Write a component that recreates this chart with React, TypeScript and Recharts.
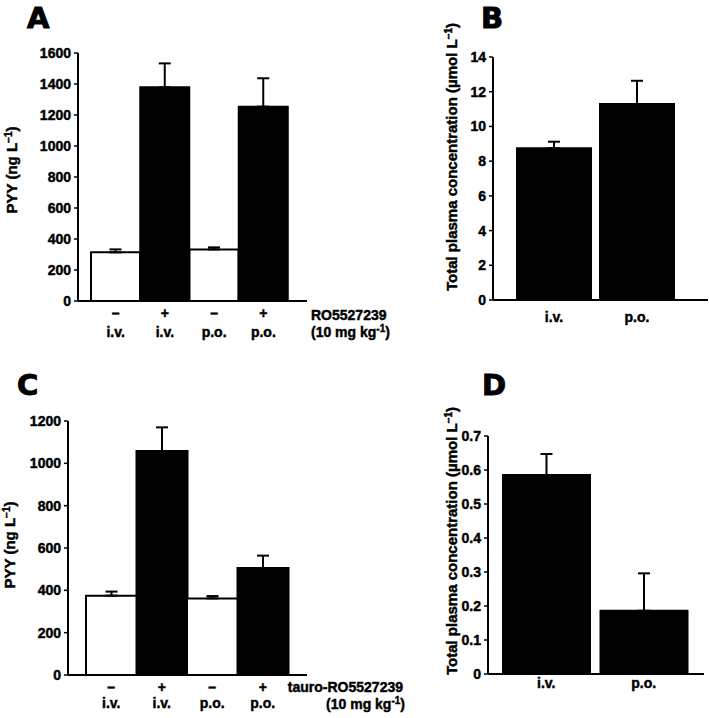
import React from 'react';
import { BarChart, Bar, XAxis, YAxis, Cell, ErrorBar } from 'recharts';

const FONT = '"Liberation Sans", Arial, Helvetica, sans-serif';

// A and C: vehicle (–) vs compound (+), by route
const doseSigns = ['–', '+', '–', '+'];
const doseRoutes = ['i.v.', 'i.v.', 'p.o.', 'p.o.'];
const doseTreated = [false, true, false, true];
// B and D: exposure by route
const pkRoutes = ['i.v.', 'p.o.'];

const pyyRoValues = [314, 1379, 333, 1254];
const pyyRoErrors = [19, 154, 13, 183];
const plasmaRoValues = [8.74, 11.29];
const plasmaRoErrors = [0.38, 1.34];
const pyyTauroValues = [375, 1058, 362, 505];
const pyyTauroErrors = [19, 112, 11, 59];
const plasmaTauroValues = [0.585, 0.186];
const plasmaTauroErrors = [0.062, 0.11];

const pyyRoTicks = [0, 200, 400, 600, 800, 1000, 1200, 1400, 1600];
const plasmaRoTicks = [0, 2, 4, 6, 8, 10, 12, 14];
const pyyTauroTicks = [0, 200, 400, 600, 800, 1000, 1200];
const plasmaTauroTicks = [0, 0.1, 0.2, 0.3, 0.4, 0.5, 0.6, 0.7];

type Row = { name: string; sign: string; route: string; value: number; err: number[]; fill: string };

const doseRows = (values: number[], errors: number[]): Row[] =>
  values.map((v, i) => ({
    name: `${doseSigns[i]}${doseRoutes[i]}`,
    sign: doseSigns[i],
    route: doseRoutes[i],
    value: v,
    err: [0, errors[i]],
    fill: doseTreated[i] ? '#000' : '#fff',
  }));

const pkRows = (values: number[], errors: number[]): Row[] =>
  values.map((v, i) => ({
    name: pkRoutes[i],
    sign: '',
    route: pkRoutes[i],
    value: v,
    err: [0, errors[i]],
    fill: '#000',
  }));

// the original uses a heavy sans, so add a thin stroke to the bold face
const txt = {
  fontFamily: FONT,
  fontWeight: 700,
  fontSize: 14,
  fill: '#000',
  stroke: '#000',
  strokeWidth: 0.45,
} as const;
const labelTxt = { ...txt, fontSize: 15 } as const;

interface PanelProps {
  box: { x: number; y: number; w: number; h: number };
  plot: { left: number; right: number; top: number; bottom: number };
  rows: Row[];
  ticks: number[];
  tickFormat?: (v: number) => string;
  padding: { left: number; right: number };
  gap: number;
  signDy: number;
  routeDy: number;
}

const Panel = ({ box, plot, rows, ticks, tickFormat, padding, gap, signDy, routeDy }: PanelProps) => {
  const yw = 40;
  const xh = 40;
  const margin = {
    top: plot.top,
    right: box.w - plot.right,
    left: plot.left - yw,
    bottom: box.h - plot.bottom - xh,
  };

  const renderTick = (props: any) => {
    const { x, y, payload } = props;
    const row = rows.find(r => r.name === payload.value);
    if (!row) return <g />;
    return (
      <g>
        {row.sign && (
          <text x={x} y={y + signDy} textAnchor="middle" style={txt}>
            {row.sign}
          </text>
        )}
        <text x={x} y={y + routeDy} textAnchor="middle" style={txt}>
          {row.route}
        </text>
      </g>
    );
  };

  return (
    <div style={{ position: 'absolute', left: box.x, top: box.y }}>
      <BarChart width={box.w} height={box.h} data={rows} margin={margin} barCategoryGap={gap}>
        <XAxis
          dataKey="name"
          height={xh}
          padding={padding}
          interval={0}
          axisLine={{ stroke: '#000', strokeWidth: 2 }}
          tickLine={false}
          tickSize={0}
          tickMargin={0}
          tick={renderTick}
        />
        <YAxis
          width={yw}
          domain={[ticks[0], ticks[ticks.length - 1]]}
          ticks={ticks}
          interval={0}
          allowDataOverflow
          tickFormatter={tickFormat}
          tick={{ ...txt }}
          tickSize={4}
          tickMargin={3}
          axisLine={{ stroke: '#000', strokeWidth: 2 }}
          tickLine={{ stroke: '#000', strokeWidth: 1.5 }}
        />
        <Bar dataKey="value" stroke="#000" strokeWidth={2} isAnimationActive={false}>
          {rows.map((r, i) => (
            <Cell key={`cell-${i}`} fill={r.fill} />
          ))}
          <ErrorBar dataKey="err" width={6} strokeWidth={2} stroke="#000" direction="y" isAnimationActive={false} />
        </Bar>
      </BarChart>
    </div>
  );
};

const YLabel = ({ x, y, text }: { x: number; y: number; text: string }) => (
  <text x={x} y={y} transform={`rotate(-90 ${x} ${y})`} textAnchor="middle" style={labelTxt}>
    {text} L
    <tspan dy={-5} fontSize={10}>−1</tspan>
    <tspan dy={5}>)</tspan>
  </text>
);

const DoseLabel = ({ x, y, anchor }: { x: number; y: number; anchor: 'start' | 'end' }) => (
  <text x={x} y={y} textAnchor={anchor} style={txt}>
    (10 mg kg
    <tspan dy={-5} fontSize={10}>-1</tspan>
    <tspan dy={5}>)</tspan>
  </text>
);

const titleStyle = { fontFamily: '"DejaVu Sans", sans-serif', fontWeight: 700, fontSize: 29, fill: '#000', stroke: '#000', strokeWidth: 1 } as const;

export default function App() {
  const oneDecimal = (v: number) => (v === 0 ? '0' : v.toFixed(1));
  return (
    <div style={{ position: 'absolute', left: 0, top: 0, width: 709, height: 718, background: '#fff' }}>
      <Panel
        box={{ x: 0, y: 0, w: 354, h: 345 }}
        plot={{ left: 78, right: 307, top: 53, bottom: 301 }}
        rows={doseRows(pyyRoValues, pyyRoErrors)}
        ticks={pyyRoTicks}
        padding={{ left: 13, right: 19 }}
        gap={0}
        signDy={17}
        routeDy={36}
      />
      <Panel
        box={{ x: 354, y: 0, w: 355, h: 345 }}
        plot={{ left: 139, right: 354, top: 57, bottom: 300 }}
        rows={pkRows(plasmaRoValues, plasmaRoErrors)}
        ticks={plasmaRoTicks}
        padding={{ left: 19.5, right: 29.5 }}
        gap={4.5}
        signDy={0}
        routeDy={22}
      />
      <Panel
        box={{ x: 0, y: 345, w: 354, h: 373 }}
        plot={{ left: 68, right: 307, top: 76, bottom: 330 }}
        rows={doseRows(pyyTauroValues, pyyTauroErrors)}
        ticks={pyyTauroTicks}
        padding={{ left: 18, right: 19 }}
        gap={0}
        signDy={17}
        routeDy={33}
      />
      <Panel
        box={{ x: 354, y: 345, w: 355, h: 373 }}
        plot={{ left: 134, right: 350, top: 91, bottom: 329 }}
        rows={pkRows(plasmaTauroValues, plasmaTauroErrors)}
        ticks={plasmaTauroTicks}
        tickFormat={oneDecimal}
        padding={{ left: 9.5, right: 11.5 }}
        gap={5.5}
        signDy={0}
        routeDy={14}
      />
      <svg
        width={709}
        height={718}
        style={{ position: 'absolute', left: 0, top: 0, pointerEvents: 'none' }}
      >
        <text x={27} y={28} style={titleStyle}>A</text>
        <text x={481} y={28} style={titleStyle}>B</text>
        <text x={17} y={395} style={titleStyle}>C</text>
        <text x={482} y={395} style={titleStyle}>D</text>

        <YLabel x={17} y={170} text="PYY (ng" />
        <YLabel x={457} y={157} text="Total plasma concentration (µmol" />
        <YLabel x={15} y={545} text="PYY (ng" />
        <YLabel x={457} y={541} text="Total plasma concentration (µmol" />

        <text x={311} y={320} style={txt}>RO5527239</text>
        <DoseLabel x={311} y={337} anchor="start" />
        <text x={403} y={692} textAnchor="end" style={txt}>tauro-RO5527239</text>
        <DoseLabel x={405} y={709} anchor="end" />
      </svg>
    </div>
  );
}
